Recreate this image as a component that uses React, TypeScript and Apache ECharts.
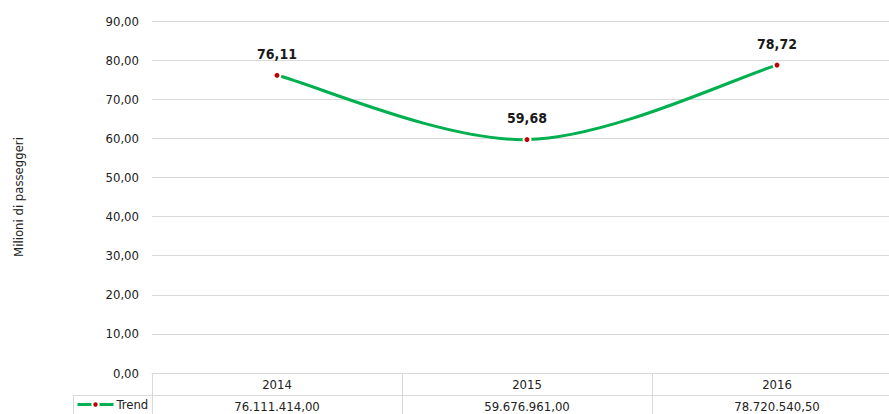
import React, { useEffect, useRef } from "react";
import * as echarts from "echarts";

const years = ["2014", "2015", "2016"];
const passengers = [76111414.0, 59676961.0, 78720540.5];
const seriesName = "Trend";
const yTicksMax = 90;
const yInterval = 10;
const axisName = "Milioni di passeggeri";

const FONT = "'Liberation Sans Narrow', 'DejaVu Sans Condensed', 'Roboto', sans-serif";
const GREEN = "#00B050";
const RED = "#C00000";

const fmtIt = (v: number, d: number) => {
  const fixed = v.toFixed(d);
  const [intPart, dec] = fixed.split(".");
  const withDots = intPart.replace(/\B(?=(\d{3})+(?!\d))/g, ".");
  return dec !== undefined ? withDots + "," + dec : withDots;
};

export default function App() {
  const ref = useRef<HTMLDivElement>(null);
  useEffect(() => {
    if (!ref.current) return;
    const chart = echarts.init(ref.current, undefined, { renderer: "svg" });
    const millions = passengers.map((v) => v / 1e6);
    const n = millions.length;
    const segData = millions.slice(0, n - 1).map((v, i) => [i, v]);

    const renderSeg = (params: any, api: any) => {
      const i = params.dataIndex;
      const pt = (k: number) => {
        const kk = Math.max(0, Math.min(n - 1, k));
        return api.coord([kk, millions[kk]]);
      };
      const p0 = pt(i - 1);
      const p1 = pt(i);
      const p2 = pt(i + 1);
      const p3 = pt(i + 2);
      return {
        type: "bezierCurve",
        shape: {
          x1: p1[0],
          y1: p1[1],
          cpx1: p1[0] + (p2[0] - p0[0]) / 6,
          cpy1: p1[1] + (p2[1] - p0[1]) / 6,
          cpx2: p2[0] - (p3[0] - p1[0]) / 6,
          cpy2: p2[1] - (p3[1] - p1[1]) / 6,
          x2: p2[0],
          y2: p2[1],
        },
        style: { stroke: GREEN, lineWidth: 3, fill: null },
      };
    };

    chart.setOption({
      animation: false,
      textStyle: { fontFamily: FONT },
      grid: { left: 152, width: 750, top: 21, bottom: 41, outerBoundsMode: "none", containLabel: false },
      legend: {
        data: [seriesName],
        left: 76,
        top: 398,
        itemWidth: 36,
        itemHeight: 8,
        itemGap: 4,
        lineStyle: { color: GREEN, width: 3, opacity: 1 },
        textStyle: { fontFamily: FONT, fontSize: 13, color: "#222", padding: [0, 0, 0, -2] },
        padding: 0,
      },
      xAxis: [
        {
          type: "category",
          data: years,
          boundaryGap: true,
          axisLine: { lineStyle: { color: "#d9d9d9" } },
          axisTick: { show: true, length: 60, interval: 0, lineStyle: { color: "#d9d9d9" } },
          axisLabel: { fontFamily: FONT, fontSize: 13, color: "#222", margin: 5 },
        },
        {
          type: "category",
          data: years,
          position: "bottom",
          offset: 22,
          boundaryGap: true,
          axisLine: { show: false },
          axisTick: { show: false },
          axisLabel: {
            fontFamily: FONT,
            fontSize: 13,
            color: "#222",
            margin: 5,
            formatter: (_: string, idx: number) => fmtIt(passengers[idx], 2),
          },
        },
      ],
      yAxis: {
        type: "value",
        min: 0,
        max: yTicksMax,
        interval: yInterval,
        name: axisName,
        nameLocation: "middle",
        nameGap: 127,
        nameTextStyle: { fontFamily: FONT, fontSize: 13, color: "#222" },
        axisLine: { show: false },
        axisTick: { show: false },
        axisLabel: {
          fontFamily: FONT,
          fontSize: 13,
          color: "#222",
          margin: 13,
          formatter: (v: number) => fmtIt(v, 2),
        },
        splitLine: { lineStyle: { color: "#d9d9d9" } },
      },
      graphic: [
        {
          type: "line",
          shape: { x1: 73, y1: 395.5, x2: 902, y2: 395.5 },
          style: { stroke: "#d9d9d9", lineWidth: 1 },
        },
        {
          type: "line",
          shape: { x1: 73.5, y1: 395, x2: 73.5, y2: 414 },
          style: { stroke: "#d9d9d9", lineWidth: 1 },
        },
      ],
      series: [
        {
          name: "curve",
          type: "custom",
          data: segData,
          encode: { x: 0, y: 1 },
          renderItem: renderSeg,
          z: 1,
          silent: true,
        },
        {
          name: seriesName,
          type: "line",
          data: millions,
          symbol: "circle",
          symbolSize: 7,
          showAllSymbol: true,
          z: 3,
          lineStyle: { color: GREEN, width: 3, opacity: 0 },
          itemStyle: { color: RED, borderColor: "#ffffff", borderWidth: 2 },
          label: {
            show: true,
            position: "top",
            distance: 10,
            fontFamily: FONT,
            fontSize: 14,
            fontWeight: "bold",
            color: "#1a1a1a",
            formatter: (p: any) => fmtIt(p.value, 2),
          },
        },
      ],
    });
    return () => chart.dispose();
  }, []);
  return (
    <div
      ref={ref}
      style={{ position: "absolute", left: 0, top: 0, width: 889, height: 414 }}
    />
  );
}
